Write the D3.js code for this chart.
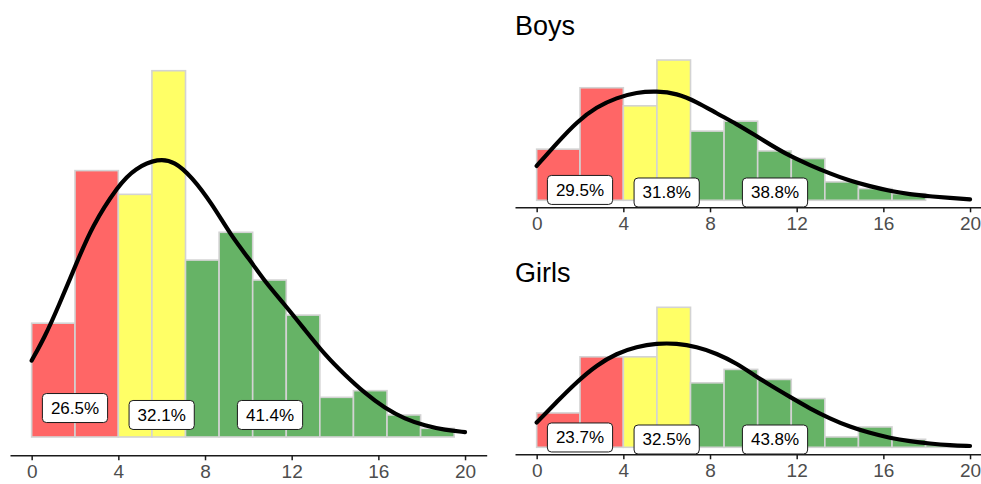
<!DOCTYPE html>
<meta charset="utf-8">
<style>

  body { margin: 0; background: #fff; }

  text { font-family: "Liberation Sans", Arial, Helvetica, sans-serif; }

  .bars rect {
    stroke: #d3d3d3;
    stroke-width: 1.6px;
  }

  .curve {
    fill: none;
    stroke: #000;
    stroke-width: 4.2px;
    stroke-linecap: round;
  }

  .axis path, .axis line {
    stroke: #1a1a1a;
    stroke-width: 1.5px;
  }

  .axis text {
    fill: #4d4d4d;
    font-size: 19px;
  }

  .tag rect {
    fill: #fff;
    stroke: #1a1a1a;
    stroke-width: 1px;
  }

  .tag text {
    font-size: 17px;
    fill: #000;
  }

  .title { font-size: 27px; fill: #000; }

</style>
<svg width="981" height="484"></svg>
<script src="https://cdnjs.cloudflare.com/ajax/libs/d3/7.8.5/d3.min.js"></script>
<script>

    // histogram bins (shared by the three panels)
    var binEdges = [0, 2, 4, 5.55, 7.1, 8.65, 10.2, 11.75, 13.3, 14.85, 16.4, 17.95, 19.5];
    var binGroup = ["low", "low", "mid", "mid", "high", "high", "high", "high", "high", "high", "high", "high"];
    var groupColor = { low: "#ff6666", mid: "#ffff66", high: "#66b366" };
    var xTicks = [0, 4, 8, 12, 16, 20];
    var pctX = [2, 6, 11];

    // all pupils
    var allDensity = [0.0393, 0.0920, 0.0838, 0.1265, 0.0611, 0.0707, 0.0542, 0.0421, 0.0137, 0.0160, 0.0076, 0.0030];
    var allCurveX = [0, 0.61, 1.23, 2.07, 2.77, 4.0, 4.77, 5.85, 6.61, 7.38, 8.31, 9.23, 10.07, 10.77, 11.69, 12.61, 13.54, 14.46, 15.38, 16.3, 17.23, 18.15, 19.07, 20];
    var allCurveY = [0.0264, 0.0346, 0.0450, 0.0600, 0.0726, 0.0870, 0.0928, 0.0963, 0.0951, 0.0899, 0.0807, 0.0692, 0.0612, 0.0536, 0.0456, 0.0370, 0.0283, 0.0214, 0.0151, 0.0099, 0.0062, 0.0039, 0.0024, 0.0017];
    var allPct = ["26.5%", "32.1%", "41.4%"];
    var allPctY = [0.0100, 0.0076, 0.0076];

    // curve points read for the two small panels
    var sideCurveX = [0, 0.92, 1.85, 2.77, 3.69, 4.61, 5.54, 6.46, 7.38, 8.31, 9.23, 10.07, 10.77, 11.69, 12.61, 13.54, 14.46, 15.38, 16.3, 17.23, 18.15, 19.07, 20];

    // boys
    var boysDensity = [0.0459, 0.1010, 0.0848, 0.1259, 0.0621, 0.0710, 0.0443, 0.0375, 0.0165, 0.0105, 0.0060, 0];
    var boysCurveY = [0.0308, 0.0510, 0.0704, 0.0839, 0.0920, 0.0969, 0.0980, 0.0960, 0.0884, 0.0780, 0.0685, 0.0585, 0.0501, 0.0396, 0.0315, 0.0240, 0.0174, 0.0126, 0.0084, 0.0054, 0.0036, 0.0021, 0.0009];
    var boysPct = ["29.5%", "31.8%", "38.8%"];
    var boysPctY = [0.0093, 0.0070, 0.0070];

    // girls
    var girlsDensity = [0.0322, 0.0848, 0.0848, 0.1312, 0.0604, 0.0730, 0.0636, 0.0457, 0.0097, 0.0191, 0.0075, 0.0025];
    var girlsCurveY = [0.0232, 0.0425, 0.0613, 0.0770, 0.0880, 0.0942, 0.0974, 0.0974, 0.0942, 0.0880, 0.0786, 0.0672, 0.0582, 0.0472, 0.0363, 0.0269, 0.0191, 0.0134, 0.0087, 0.0056, 0.0035, 0.0019, 0.0012];
    var girlsPct = ["23.7%", "32.5%", "43.8%"];
    var girlsPctY = [0.0092, 0.0073, 0.0073];

    var svg = d3.select("svg");

    var panels = [
        { title: null, density: allDensity, cx: allCurveX, cy: allCurveY, pct: allPct, pctY: allPctY,
          left: 10, right: 486.7, top: 52.4, bottom: 455.3 },
        { title: "Boys", density: boysDensity, cx: sideCurveX, cy: boysCurveY, pct: boysPct, pctY: boysPctY,
          left: 515, right: 991.7, top: 53, bottom: 207.3, titleY: 35 },
        { title: "Girls", density: girlsDensity, cx: sideCurveX, cy: girlsCurveY, pct: girlsPct, pctY: girlsPctY,
          left: 515, right: 991.7, top: 300.3, bottom: 454.3, titleY: 282 }
    ];

    panels.forEach(function(p) {
        var M = d3.max(p.density);

        var x = d3.scaleLinear().domain([-1, 21]).range([p.left, p.right]);
        var y = d3.scaleLinear().domain([-0.05 * M, 1.05 * M]).range([p.bottom, p.top]);

        var g = svg.append("g");

        var bins = p.density.map(function(d, i) {
            return { x0: binEdges[i], x1: binEdges[i + 1], v: d, group: binGroup[i] };
        }).filter(function(d) { return d.v > 0; });

        g.append("g")
            .attr("class", "bars")
            .selectAll("rect")
            .data(bins)
            .enter().append("rect")
            .attr("x", function(d) { return x(d.x0); })
            .attr("width", function(d) { return x(d.x1) - x(d.x0); })
            .attr("y", function(d) { return y(d.v); })
            .attr("height", function(d) { return y(0) - y(d.v); })
            .attr("fill", function(d) { return groupColor[d.group]; });

        var line = d3.line()
            .x(function(d, i) { return x(p.cx[i]); })
            .y(function(d) { return y(d); })
            .curve(d3.curveBasis);

        g.append("path")
            .attr("class", "curve")
            .attr("d", line(p.cy));

        var tags = g.selectAll(".tag")
            .data(p.pct)
            .enter().append("g")
            .attr("class", "tag")
            .attr("transform", function(d, i) { return "translate(" + x(pctX[i]) + "," + y(p.pctY[i]) + ")"; });

        tags.append("rect");
        tags.append("text")
            .attr("text-anchor", "middle")
            .attr("dy", "0.35em")
            .text(function(d) { return d; });

        tags.each(function() {
            var t = d3.select(this);
            var w = t.select("text").node().getComputedTextLength() + 17;
            var h = 29;
            t.select("rect")
                .attr("x", -w / 2).attr("y", -h / 2)
                .attr("width", w).attr("height", h)
                .attr("rx", 4).attr("ry", 4);
        });

        g.append("g")
            .attr("class", "axis")
            .attr("transform", "translate(0," + p.bottom + ")")
            .call(d3.axisBottom(x).tickValues(xTicks).tickSizeInner(5).tickSizeOuter(0).tickPadding(4))
            .call(function(a) { a.selectAll("text").attr("font-family", null); a.selectAll(".tick line").attr("stroke", "#333"); });

        if (p.title) {
            svg.append("text")
                .attr("class", "title")
                .attr("x", 515)
                .attr("y", p.titleY)
                .text(p.title);
        }
    });

</script>
